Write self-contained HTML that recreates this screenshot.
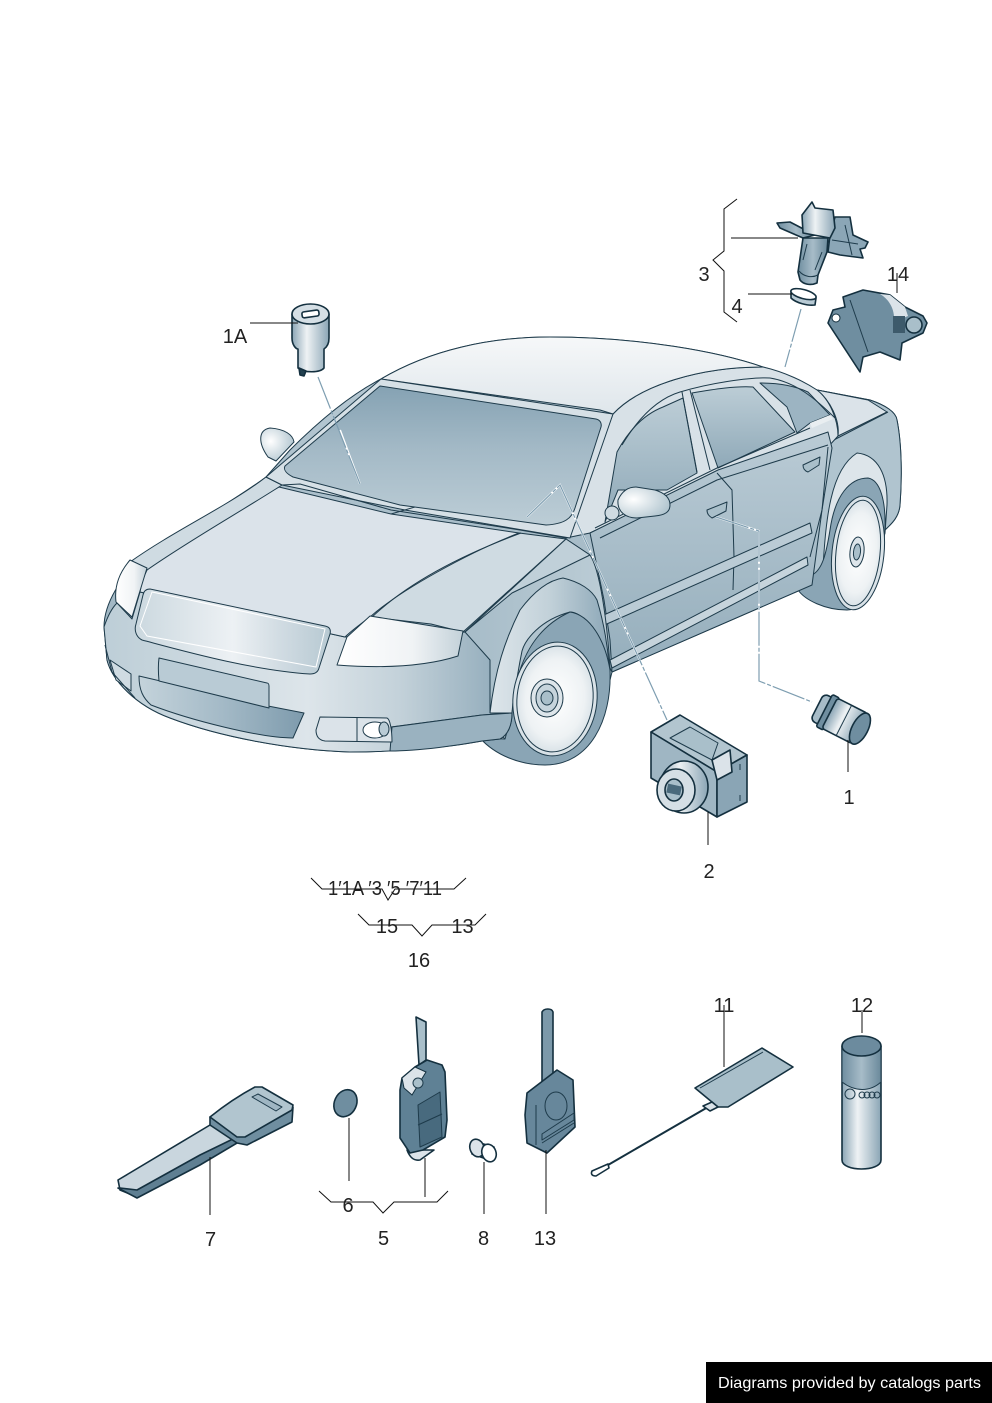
<!DOCTYPE html>
<html><head><meta charset="utf-8"><style>
html,body{margin:0;padding:0;background:#fff}
svg{display:block}
text{font-family:"Liberation Sans",sans-serif;font-size:20px;fill:#222;text-anchor:middle}
.o{stroke:#1e3b4b;stroke-width:1;stroke-linejoin:round}
.l{stroke:#1e3b4b;stroke-width:1;stroke-linejoin:round}
.l:not([fill]){fill:none}
.k{fill:none;stroke:#111;stroke-width:1}
.p{stroke:#14303f;stroke-width:1.6;stroke-linejoin:round}
.d{fill:none;stroke:#7e9eb1;stroke-width:1.2;stroke-dasharray:34 2 4 2}
</style></head><body>
<svg width="992" height="1403" viewBox="0 0 992 1403" xmlns="http://www.w3.org/2000/svg">
<defs>
<linearGradient id="ws" x1="0" y1="0" x2="0" y2="1"><stop offset="0" stop-color="#85a2b3"/><stop offset=".45" stop-color="#a3b9c6"/><stop offset="1" stop-color="#bccdd6"/></linearGradient>
<linearGradient id="roof" x1="0" y1="0" x2="0" y2="1"><stop offset="0" stop-color="#f6f8f9"/><stop offset="1" stop-color="#dfe6eb"/></linearGradient>
<linearGradient id="bump" x1="0" y1="0" x2="1" y2="0"><stop offset="0" stop-color="#bdced7"/><stop offset=".5" stop-color="#dde5ea"/><stop offset=".72" stop-color="#c4d2da"/><stop offset="1" stop-color="#8da8b8"/></linearGradient>
<linearGradient id="grl" x1="0" y1="0" x2="1" y2="0"><stop offset="0" stop-color="#cbd8df"/><stop offset=".5" stop-color="#edf1f4"/><stop offset=".75" stop-color="#d0dbe2"/><stop offset="1" stop-color="#b7c9d2"/></linearGradient>
<linearGradient id="lowg" x1="0" y1="0" x2="1" y2="0"><stop offset="0" stop-color="#c4d3db"/><stop offset=".5" stop-color="#a4bac7"/><stop offset="1" stop-color="#7e9bad"/></linearGradient>
<linearGradient id="hl" x1="0" y1="0" x2="1" y2="0"><stop offset="0" stop-color="#fff"/><stop offset=".6" stop-color="#f0f3f5"/><stop offset="1" stop-color="#c3d1d9"/></linearGradient>
<linearGradient id="side" x1="0" y1="0" x2="0" y2="1"><stop offset="0" stop-color="#bacbd5"/><stop offset="1" stop-color="#95aebc"/></linearGradient>
<linearGradient id="win" x1="0" y1="0" x2="0" y2="1"><stop offset="0" stop-color="#bccdd6"/><stop offset="1" stop-color="#8fa9b8"/></linearGradient>
<linearGradient id="fend" x1="0" y1="0" x2="1" y2="0"><stop offset="0" stop-color="#dde5ea"/><stop offset=".5" stop-color="#c2d1d9"/><stop offset="1" stop-color="#8da8b8"/></linearGradient>
<linearGradient id="fside" x1="0" y1="0" x2="1" y2="0"><stop offset="0" stop-color="#a4bac7"/><stop offset=".5" stop-color="#a8bdc9"/><stop offset="1" stop-color="#bccdd6"/></linearGradient>
<radialGradient id="rim"><stop offset="0" stop-color="#fff"/><stop offset=".7" stop-color="#eef2f4"/><stop offset="1" stop-color="#d5dfe5"/></radialGradient>
<radialGradient id="mir" cx=".3" cy=".4" r=".8"><stop offset="0" stop-color="#fff"/><stop offset="1" stop-color="#a9bfca"/></radialGradient>
<linearGradient id="cyl" x1="0" y1="0" x2="1" y2="0"><stop offset="0" stop-color="#8aa5b5"/><stop offset=".4" stop-color="#eef2f4"/><stop offset="1" stop-color="#8aa5b5"/></linearGradient>
<linearGradient id="cyl2" x1="0" y1="0" x2="1" y2="0"><stop offset="0" stop-color="#6f8ea0"/><stop offset=".5" stop-color="#a7bcc8"/><stop offset="1" stop-color="#6a899b"/></linearGradient>
</defs>

<!-- body -->
<path class="o" fill="url(#side)" d="M104,627 C104,605 120,575 147,555 C190,525 235,500 266,477 L290,450 C320,420 350,395 381,379 C430,350 490,337 550,337 C640,337 720,352 763,367 C785,373 805,385 817,390 L870,400 C885,405 896,412 897,420 C902,445 902,480 900,505 C899,518 890,525 885,530 L812,585 L612,672 L590,700 L480,738 C440,748 390,752 350,752 C290,750 220,737 170,718 C135,705 112,680 107,660 Z"/>

<!-- rear quarter -->
<path class="o" fill="#b0c4cf" d="M817,390 L870,400 C885,405 896,412 897,420 C902,445 902,480 900,505 C899,518 890,525 885,530 L810,580 L830,445 Z"/>
<path class="l" d="M888,412 L828,443"/>
<path fill="#dbe3e9" class="l" d="M817,390 L868,400 L887,412 L838,436 C840,420 830,400 817,390Z"/>

<!-- rear wheel -->
<path fill="#dde5ea" class="l" d="M823,567 C826,520 830,470 857,453 C878,455 888,475 887,505 L885,533 L878,560 L810,580Z"/>
<path fill="#8aa5b5" class="l" d="M830,530 C835,495 850,478 868,478 C880,480 886,500 885,530 C880,580 868,610 847,610 C825,610 805,600 798,590 L812,575 C822,570 826,555 830,530Z"/>
<ellipse cx="858" cy="553" rx="26" ry="57" fill="url(#rim)" class="l" transform="rotate(6 858 553)"/>
<ellipse cx="858" cy="553" rx="22" ry="53" class="l" transform="rotate(6 858 553)"/>
<ellipse cx="857" cy="552" rx="7" ry="15" fill="#dde5ea" class="l" transform="rotate(6 857 552)"/>
<ellipse cx="857" cy="552" rx="3.5" ry="8" fill="#a9bfca" class="l" transform="rotate(6 857 552)"/>

<!-- greenhouse -->
<path fill="#d8e1e7" class="o" d="M566,538 L613,414 C640,385 700,367 763,367 C785,372 805,382 817,390 C830,400 838,420 838,436 L828,447 L718,473 L590,533Z"/>
<path fill="url(#roof)" class="o" d="M381,379 C430,350 490,337 550,337 C640,337 720,352 763,367 C700,367 640,385 613,414 L600,410 L381,379Z"/>

<!-- side windows -->
<path fill="url(#win)" class="o" d="M605,522 L617,452 C630,428 645,414 663,407 L683,398 L697,473 L667,490 L618,490 Z"/>
<path fill="url(#win)" class="o" d="M692,393 C715,389 735,386 753,387 L795,432 L718,468Z"/>
<path fill="#9cb4c2" class="o" d="M760,383 C780,383 795,386 808,392 L830,415 L810,423 L797,433 L787,407Z"/>
<path class="l" d="M682,392 L697,472 M690,390 L710,470 M622,445 C640,415 660,398 680,392 C710,383 750,377 770,378 C795,382 815,398 835,418"/>
<path fill="#e9eef1" d="M810,423 L830,415 L833,419 L812,428Z"/>

<!-- door side -->
<path fill="url(#side)" class="l" d="M590,533 L718,470 L828,432 L832,448 L822,510 L812,585 L612,672 L610,640 L604,600 Z"/>
<path class="l" d="M595,528 L717,468 L810,428 M600,538 L717,480 L828,445"/>
<path class="l" d="M717,473 L732,490 L734,557 L733,590 M828,447 L822,510 L810,557"/>
<path fill="#bacbd5" class="l" d="M597,618 L810,523 L812,533 L600,627 C596,625 595,621 597,618Z"/>
<path fill="#c6d4dc" class="l" d="M610,660 L807,557 L808,565 L612,668Z"/>
<path fill="#a9bfca" class="l" d="M707,510 L727,502 L726,511 L712,518 C709,516 707,514 707,510Z"/>
<path fill="#a9bfca" class="l" d="M803,465 L820,457 L819,465 L808,472 C805,471 803,469 803,465Z"/>
<circle cx="612" cy="513" r="7" fill="#cfdbe2" class="l"/>
<path fill="url(#mir)" class="o" d="M618,500 C622,491 628,487 636,487 L655,490 C665,493 670,498 670,505 C670,512 665,515 655,516 L637,518 C626,518 617,512 618,500Z"/>

<!-- front fender -->
<path fill="url(#fside)" class="l" d="M566,539 L590,555 C600,570 607,620 610,668 L612,672 L600,720 L505,739 L480,715 L391,727 L340,680 L465,632Z"/>
<path fill="#cfdbe2" class="l" d="M519,533 L566,539 L463,632 L431,624 L370,617 C400,590 470,550 519,533Z"/>
<path fill="#c0d0d9" class="l" d="M566,539 L590,555 L512,593 L465,632Z"/>
<path fill="url(#fend)" class="l" d="M490,713 C495,670 505,640 520,610 C535,590 550,580 563,578 C580,582 592,590 597,600 C603,620 607,640 609,664 L600,641 C592,625 580,612 570,612 C540,620 525,640 522,651 C516,680 514,700 512,713Z"/>
<!-- front wheel -->
<path fill="#8aa5b5" class="l" d="M512,713 C515,670 530,630 570,612 C590,615 605,640 610,670 C612,720 590,765 545,765 C520,765 495,755 480,738 L505,739 Z"/>
<ellipse cx="555" cy="699" rx="42" ry="57" fill="url(#rim)" class="l" transform="rotate(6 555 699)"/>
<ellipse cx="555" cy="699" rx="38" ry="53" class="l" transform="rotate(6 555 699)"/>
<ellipse cx="547" cy="698" rx="16" ry="19" fill="#dde5ea" class="l"/>
<ellipse cx="547" cy="698" rx="11" ry="14" fill="#c6d4dc" class="l"/>
<ellipse cx="547" cy="698" rx="6" ry="7" fill="#a9bfca" class="l"/>

<!-- front bumper -->
<path fill="url(#bump)" class="o" d="M104,627 C108,615 112,608 117,603 L132,619 L140,592 L345,637 L465,632 L490,660 L490,713 L512,713 C512,725 508,735 500,739 L482,741 C450,747 400,752 350,752 C290,750 220,737 170,718 C135,705 112,680 107,660 Z"/>
<path class="l" d="M391,727 L482,715 L512,713"/>
<path class="l" fill="#9ab2c0" d="M392,727 L482,715 L512,713 C512,725 508,735 500,739 L482,741 C460,745 420,751 390,751 Z"/>
<path fill="url(#lowg)" class="l" d="M139,676 L268,706 L304,713 L293,738 C260,738 190,720 151,705 C143,698 139,690 139,676Z"/>
<path fill="#b9cbd5" class="l" d="M159,658 L267,683 C268,683 269,684 269,686 L269,708 L159,681 C158,670 158,665 159,658Z"/>
<path fill="#dbe3e9" class="l" d="M320,717 L387,718 C390,719 392,730 392,742 L325,741 C318,740 316,735 316,730Z"/>
<path class="l" d="M357,717 V742"/>
<ellipse cx="375" cy="730" rx="12" ry="8" fill="#fff" class="l"/>
<ellipse cx="384" cy="729" rx="5" ry="7" fill="#b9cbd5" class="l"/>
<path fill="#cfdbe2" class="l" d="M110,660 L131,674 L131,691 L116,680 Z"/>
<path class="l" d="M105,645 L112,672 L135,698"/>

<!-- hood -->
<path fill="#dbe3ea" class="o" d="M147,570 C180,540 235,510 279,487 L391,514 L519,533 C470,552 400,590 370,617 C355,628 350,632 345,637 L140,592 C141,585 143,578 147,570Z"/>
<path class="l" fill="#cfdbe2" d="M130,562 C175,530 230,505 266,477 L282,485 C240,512 190,540 147,570Z"/>
<path class="l" d="M370,619 C410,580 470,552 521,533"/>

<!-- grille -->
<path fill="url(#grl)" class="o" d="M150,589 L325,626 C330,627 331,630 330,634 L319,668 C318,672 315,674 310,674 C250,670 180,650 142,640 C136,637 134,630 136,624 L143,595 C144,590 147,589 150,589Z"/>
<path fill="none" stroke="#fff" stroke-width="1" d="M152,592 L325,629 L316,667 L147,636 L140,626Z"/>
<!-- headlights -->
<path fill="url(#hl)" class="o" d="M370,616 L463,631 L458,656 C430,665 390,669 337,665 L347,637 Z"/>
<path fill="url(#hl)" class="o" d="M130,560 L147,568 L132,617 L116,602 C114,585 120,572 130,560Z"/>
<!-- far mirror -->
<path fill="url(#mir)" class="o" d="M268,457 C258,443 258,430 270,428 C285,429 293,435 294,442 L276,461Z"/>

<!-- windshield -->
<path fill="#d6e0e6" class="o" d="M266,477 L381,379 L613,414 L570,538 L405,510 L282,485Z"/>
<path fill="url(#ws)" class="o" d="M380,386 L596,419 C600,420 602,423 601,427 L575,508 C572,518 565,524 546,525 L400,505 L293,477 C287,474 283,470 285,466 Z"/>
<path class="l" d="M282,485 L300,484 L391,510 L520,530 L566,538 M391,514 L415,507"/>

<!-- connectors -->
<path fill="none" stroke="#fff" stroke-width="2" d="M340,430 L360,484 M527,517 L560,485 L667,720 M716,517 L759,531 V680"/>
<path class="d" d="M318,377 L360,484"/>
<path class="d" d="M801,309 L785,367"/>
<path class="d" d="M527,517 L560,485 L667,720"/>
<path class="d" d="M716,517 L759,531 V681 L812,702"/>

<!-- 1A -->
<path class="p" fill="url(#cyl)" d="M292,314 V338 C292,345 296,349 298,349 V368 C304,373 320,373 324,368 V349 C327,347 329,343 329,338 V314Z"/>
<ellipse class="p" cx="310.500" cy="314" rx="18.500" ry="10" fill="#d5dfe5"/>
<rect class="p" x="302" y="311" width="17" height="6" rx="2" fill="#fff" transform="rotate(-8 310 314)"/>
<path class="p" fill="#21404f" d="M299,368 L306,371 L304,376 L300,375Z"/>

<!-- 3 -->
<path class="p" fill="#8ba6b6" d="M835,217 L850,217 L853,235 L868,242 L865,248 L860,249 L863,258 L840,255 L828,252 L830,235Z"/>
<path class="l" d="M845,225 L852,255 M832,240 L858,244"/>
<path class="p" fill="url(#cyl2)" d="M777,223 L790,222 L815,235 L803,238 L780,228Z"/>
<path class="p" fill="url(#cyl2)" d="M803,238 L828,238 L827,252 L818,275 L817,283 C810,286 803,284 800,280 L798,272Z"/>
<path class="l" d="M799,271 C804,277 812,278 818,275 M807,244 L803,260 M822,252 L815,270"/>
<path class="p" fill="url(#cyl)" d="M802,215 L812,202 L815,208 L833,210 L835,228 L830,238 L803,233Z"/>
<!-- 4 -->
<path class="p" fill="#b8cad4" d="M791,291 L816,298 L815,305 C808,306 796,303 791,298Z"/>
<ellipse class="p" cx="803.500" cy="294" rx="13" ry="4.500" fill="#fff" transform="rotate(15 803 294)"/>
<!-- 14 -->
<path class="p" fill="#6f8ea0" d="M843,297 L863,290 L890,295 L905,307 L923,316 L927,323 L923,333 L902,343 L900,360 L880,352 L863,357 L860,372 L828,323 L833,310 L845,307Z"/>
<path fill="#dbe3e9" d="M890,295 L905,307 L908,316 L894,322 C895,310 890,300 880,294Z"/>
<rect x="893" y="316" width="12" height="17" fill="#3d5a6b"/>
<ellipse cx="914" cy="325" rx="8" ry="8" fill="#a9bfca" class="p"/>
<circle cx="836" cy="318" r="4" fill="#fff" stroke="#14303f"/>
<path class="l" d="M850,300 L868,352"/>
<!-- 1 -->
<g transform="rotate(27 843 720)">
<rect class="p" x="814" y="705" width="16" height="30" rx="5" fill="#a7bcc8"/>
<rect class="p" x="822" y="702" width="8" height="36" rx="2" fill="#6f8ea0"/>
<rect class="p" x="828" y="703" width="34" height="34" rx="3" fill="url(#cyl)"/>
<path class="l" d="M844,703 V737"/>
<ellipse class="p" cx="862" cy="720" rx="8" ry="17" fill="#6f8ea0"/>
</g>
<!-- 2 -->
<path class="p" fill="#b2c5cf" d="M651,732 L680,715 L747,755 L717,772Z"/>
<path class="p" fill="#9fb6c3" d="M651,732 L717,772 L717,817 L651,778Z"/>
<path class="p" fill="#8aa5b5" d="M717,772 L747,755 L747,802 L717,817Z"/>
<path class="l" fill="#a9bfca" d="M670,738 L690,727 L718,743 L712,760Z"/>
<path class="p" fill="#dbe3e9" d="M712,760 L730,750 L732,772 L717,780Z"/>
<path class="l" d="M740,764 V770 M740,795 V801"/>
<ellipse class="p" cx="684" cy="787" rx="24" ry="26" fill="url(#cyl)"/>
<ellipse class="p" cx="676" cy="790" rx="19" ry="21" fill="#d5dfe5"/>
<ellipse class="p" cx="674" cy="790" rx="9" ry="11" fill="#a9bfca"/>
<rect x="667" y="785" width="14" height="9" fill="#4a6a7c" transform="rotate(12 674 790)"/>

<!-- key 7 -->
<path class="p" fill="#c9d6de" d="M118,1180 L210,1125 L237,1137 L200,1162 L137,1197 L120,1190Z"/>
<path class="p" fill="#5f7f92" d="M120,1188 L137,1190 L200,1155 L237,1137 L237,1143 L200,1165 L137,1198 L118,1188Z"/>
<path class="p" fill="#6f8ea0" d="M210,1117 L210,1125 L237,1143 L247,1145 L292,1122 L293,1107Z"/>
<path class="p" fill="#b1c5cf" d="M210,1117 C225,1105 240,1095 255,1087 L262,1087 L293,1105 L292,1110 L245,1137 L237,1137Z"/>
<path class="l" fill="#9fb6c3" d="M252,1097 L258,1094 L282,1107 L276,1111Z"/>
<!-- 6 -->
<ellipse class="p" cx="345.500" cy="1103" rx="11" ry="14" fill="#6f8ea0" transform="rotate(25 345 1103)"/>
<!-- key 5 -->
<path class="p" fill="#a9bfca" d="M416,1017 L426,1022 V1060 L419,1065Z"/>
<path class="p" fill="#dbe3e9" d="M407,1150 L434,1150 L420,1160 C414,1161 410,1158 407,1150Z"/>
<path class="p" fill="#5f8195" d="M402,1078 L415,1067 L427,1060 L442,1065 L445,1072 L447,1120 L445,1137 L423,1150 L410,1153 L400,1138 L400,1090Z"/>
<path fill="#dbe3e9" stroke="#14303f" d="M402,1078 L415,1067 L426,1072 L412,1095 L404,1088Z"/>
<circle cx="418" cy="1083" r="5" fill="#a9bfca" class="l"/>
<path class="l" fill="#486a7e" d="M418,1105 L440,1092 L442,1137 L420,1147Z"/>
<path class="l" d="M418,1125 L442,1114"/>
<!-- 8 -->
<path class="p" fill="#6f8ea0" d="M473,1141 L494,1147 L492,1161 L472,1154Z"/>
<ellipse class="p" cx="477" cy="1148" rx="7" ry="9" fill="#dbe3e9" transform="rotate(-20 477 1148)"/>
<ellipse class="p" cx="489" cy="1153" rx="7" ry="9" fill="#fff" transform="rotate(-20 489 1153)"/>
<!-- key 13 -->
<path class="p" fill="#7c99aa" d="M542,1012 C544,1008 552,1008 553,1012 V1063 L553,1075 L542,1083Z"/>
<path class="p" fill="#67879b" d="M527,1093 L557,1070 L573,1080 L575,1127 L547,1153 L527,1143 L525,1115Z"/>
<ellipse class="l" cx="556" cy="1106" rx="11" ry="14"/>
<path class="l" d="M542,1134 L574,1113 V1120 L542,1140Z M542,1143 L574,1123 M536,1105 V1145"/>
<!-- 11 -->
<path class="p" fill="#a9bfca" d="M695,1088 L762,1048 L793,1067 L728,1107 L718,1107Z"/>
<path class="l" d="M700,1088 L763,1052"/>
<path stroke="#14303f" stroke-width="2" fill="none" d="M708,1107 L608,1165"/>
<path class="p" fill="#dbe3e9" d="M703,1106 L712,1102 L718,1107 L710,1111Z"/>
<path class="p" fill="#fff" d="M592,1171 L608,1164 L609,1168 L596,1176 C591,1176 591,1173 592,1171Z"/>
<!-- 12 -->
<path class="p" fill="url(#cyl)" d="M842,1046 V1160 C842,1172 881,1172 881,1160 V1046Z"/>
<path class="l" fill="url(#cyl2)" d="M842,1046 V1082 C855,1092 870,1092 881,1082 V1046Z"/>
<ellipse class="p" cx="861.500" cy="1046" rx="19.500" ry="10" fill="#6c8b9e"/>
<circle cx="850" cy="1094" r="5" class="l"/>
<g fill="none" stroke="#1e3b4b" stroke-width="1"><circle cx="862" cy="1095" r="3"/><circle cx="867" cy="1095" r="3"/><circle cx="872" cy="1095" r="3"/><circle cx="877" cy="1095" r="3"/></g>

<!-- leaders -->
<path class="k" d="M250,323 H298 M737,199 L724,209 V251 L713,260 L724,271 V312 L737,322 M731,238 H798 M748,294 H792 M897,273 V293 M848,740 V772 M708,812 V845"/>
<path class="k" d="M311,878 L322,889 H382 L388,900 L395,889 H454 L466,878 M358,914 L369,925 H412 L422,936 L432,925 H475 L486,914"/>
<path class="k" d="M319,1191 L331,1202 H373 L383,1213 L394,1202 H437 L448,1191 M210,1157 V1215 M349,1118 V1181 M425,1158 V1197 M484,1162 V1214 M546,1150 V1214 M724,1005 V1067 M862,1010 V1033"/>

<text x="235" y="343">1A</text>
<text x="704" y="281">3</text>
<text x="737" y="313">4</text>
<text x="898" y="281">14</text>
<text x="849" y="804">1</text>
<text x="709" y="878">2</text>
<text x="385" y="895" textLength="114" lengthAdjust="spacingAndGlyphs">1′1A ′3 ′5 ′7′11</text>
<text x="387" y="933">15</text>
<text x="462.500" y="933">13</text>
<text x="419" y="967">16</text>
<text x="210.500" y="1246">7</text>
<text x="348" y="1212">6</text>
<text x="383.500" y="1245">5</text>
<text x="483.500" y="1245">8</text>
<text x="545" y="1245">13</text>
<text x="724" y="1012">11</text>
<text x="862" y="1012">12</text>

<rect x="706" y="1362" width="286" height="41" fill="#000"/>
<text x="718" y="1388" style="text-anchor:start;font-size:16px;fill:#fff" textLength="263" lengthAdjust="spacingAndGlyphs">Diagrams provided by catalogs parts</text>
</svg>
</body></html>
